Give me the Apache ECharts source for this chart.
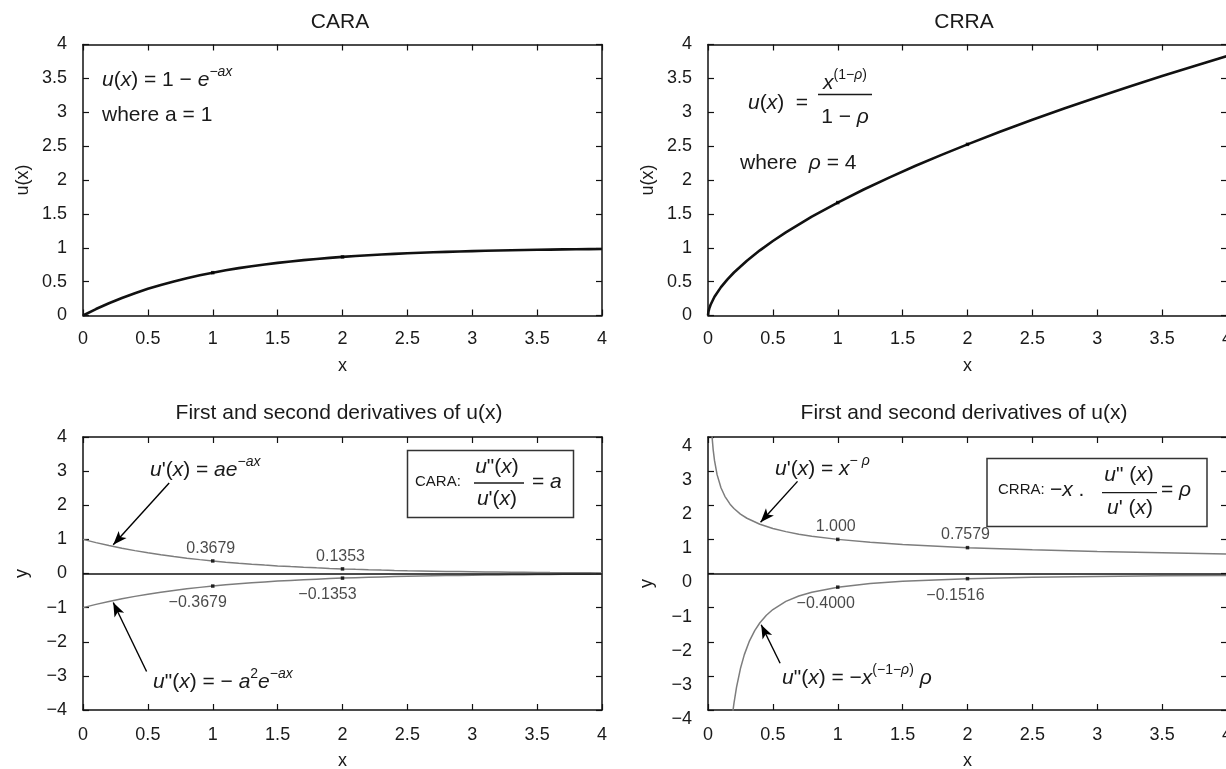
<!DOCTYPE html>
<html><head><meta charset="utf-8">
<script src="https://cdn.jsdelivr.net/npm/echarts@6/dist/echarts.min.js"></script>
<style>html,body{margin:0;padding:0;background:#fff}#c{width:1226px;height:769px}</style>
</head><body><div id="c"></div>
<script>
// ---------------- data ----------------
const panelTitles = ['CARA', 'CRRA', 'First and second derivatives of u(x)', 'First and second derivatives of u(x)'];
const yNames = ['u(x)', 'u(x)', 'y', 'y'];

// CARA: u(x), u'(x), u''(x)
const caraX  = [0,0.1,0.2,0.3,0.4,0.5,0.6,0.7,0.8,0.9,1,1.1,1.2,1.3,1.4,1.5,1.6,1.7,1.8,1.9,2,2.1,2.2,2.3,2.4,2.5,2.6,2.7,2.8,2.9,3,3.1,3.2,3.3,3.4,3.5,3.6,3.7,3.8,3.9,4];
const caraU  = [0,0.0952,0.1813,0.2592,0.3297,0.3935,0.4512,0.5034,0.5507,0.5934,0.6321,0.6671,0.6988,0.7275,0.7534,0.7769,0.7981,0.8173,0.8347,0.8504,0.8647,0.8775,0.8892,0.8997,0.9093,0.9179,0.9257,0.9328,0.9392,0.9450,0.9502,0.9550,0.9592,0.9631,0.9666,0.9698,0.9727,0.9753,0.9776,0.9798,0.9817];
const caraU1 = [1,0.9048,0.8187,0.7408,0.6703,0.6065,0.5488,0.4966,0.4493,0.4066,0.3679,0.3329,0.3012,0.2725,0.2466,0.2231,0.2019,0.1827,0.1653,0.1496,0.1353,0.1225,0.1108,0.1003,0.0907,0.0821,0.0743,0.0672,0.0608,0.0550,0.0498,0.0450,0.0408,0.0369,0.0334,0.0302,0.0273,0.0247,0.0224,0.0202,0.0183];
const caraU2 = [-1,-0.9048,-0.8187,-0.7408,-0.6703,-0.6065,-0.5488,-0.4966,-0.4493,-0.4066,-0.3679,-0.3329,-0.3012,-0.2725,-0.2466,-0.2231,-0.2019,-0.1827,-0.1653,-0.1496,-0.1353,-0.1225,-0.1108,-0.1003,-0.0907,-0.0821,-0.0743,-0.0672,-0.0608,-0.0550,-0.0498,-0.0450,-0.0408,-0.0369,-0.0334,-0.0302,-0.0273,-0.0247,-0.0224,-0.0202,-0.0183];
const caraMarkX  = [1, 2];
const caraMarkU  = [0.6321, 0.8647];
const caraMarkU1 = [0.3679, 0.1353];
const caraMarkU2 = [-0.3679, -0.1353];
const caraLabelsU1 = ['0.3679', '0.1353'];
const caraLabelsU2 = ['\u22120.3679', '\u22120.1353'];

// CRRA: u(x), u'(x), u''(x)
const crraX  = [0,0.003,0.01,0.02,0.05,0.1,0.15,0.2,0.3,0.4,0.5,0.6,0.8,1,1.2,1.4,1.6,1.8,2,2.25,2.5,2.75,3,3.25,3.5,3.75,4];
const crraU  = [0,0.0510,0.1052,0.1593,0.2762,0.4187,0.5340,0.6345,0.8093,0.9618,1.0997,1.2267,1.4579,1.6667,1.8593,2.0395,2.2097,2.3715,2.5262,2.7110,2.8882,3.0582,3.2220,3.3807,3.5343,3.6837,3.8290];
const crraU1X = [0.03,0.04,0.05,0.07,0.1,0.13,0.17,0.2,0.25,0.3,0.4,0.5,0.6,0.7,0.8,1,1.25,1.5,2,2.5,3,3.5,4];
const crraU1  = [4.066,3.624,3.314,2.897,2.512,2.262,2.032,1.904,1.741,1.619,1.443,1.320,1.227,1.153,1.093,1.000,0.9146,0.8503,0.7579,0.6931,0.6444,0.6059,0.5743];
const crraU2X = [0.19,0.2,0.22,0.25,0.28,0.32,0.36,0.4,0.45,0.5,0.6,0.7,0.8,1,1.25,1.5,2,2.5,3,3.5,4];
const crraU2  = [-4.091,-3.807,-3.332,-2.786,-2.377,-1.972,-1.672,-1.443,-1.223,-1.056,-0.8178,-0.6591,-0.5467,-0.4,-0.2927,-0.2267,-0.1516,-0.1109,-0.0859,-0.0692,-0.0574];
const crraMarkX  = [1, 2];
const crraMarkU  = [1.6667, 2.5262];
const crraMarkU1 = [1.000, 0.7579];
const crraMarkU2 = [-0.4000, -0.1516];
const crraLabelsU1 = ['1.000', '0.7579'];
const crraLabelsU2 = ['\u22120.4000', '\u22120.1516'];

// ---------------- styling / layout ----------------
const FONT = '"Liberation Sans", Arial, Helvetica, sans-serif';
const INK = '#1a1a1a';
const pts = (xs, ys) => xs.map((x, i) => [x, ys[i]]);
const minus = v => (v < 0 ? '\u2212' + String(-v) : String(v));

const grids = [
  {left: 83,  top: 44.5, width: 519, height: 271},
  {left: 708, top: 44.5, width: 519, height: 271},
  {left: 83,  top: 437,  width: 519, height: 273},
  {left: 708, top: 437,  width: 519, height: 273}
].map(g => Object.assign(g, {containLabel: false, outerBoundsMode: 'none'}));
const yRange = [[0, 4, 0.5], [0, 4, 0.5], [-4, 4, 1], [-4, 4, 1]];

const lineAxis = {show: true, onZero: false, lineStyle: {color: '#111', width: 1.5}};
const tickIn = {show: true, inside: true, length: 6, lineStyle: {color: '#111', width: 1.2}};
const xAxes = [], yAxes = [];
grids.forEach((g, gi) => {
  const xc = {type: 'value', gridIndex: gi, min: 0, max: 4, interval: 0.5, axisLine: lineAxis, axisTick: tickIn, splitLine: {show: false}};
  xAxes.push(Object.assign({}, xc, {
    position: 'bottom',
    axisLabel: {show: true, margin: gi < 2 ? 15 : 16, fontSize: 18, color: INK, fontFamily: FONT, formatter: minus, hideOverlap: false},
    name: 'x', nameLocation: 'middle', nameGap: 42,
    nameTextStyle: {fontSize: 18, color: INK, fontFamily: FONT}
  }));
  xAxes.push(Object.assign({}, xc, {position: 'top', axisLabel: {show: false}}));
  const [mn, mx, iv] = yRange[gi];
  const yc = {type: 'value', gridIndex: gi, min: mn, max: mx, interval: iv, axisLine: lineAxis, axisTick: tickIn, splitLine: {show: false}};
  yAxes.push(Object.assign({}, yc, {
    position: 'left',
    axisLabel: Object.assign({show: true, margin: 16, fontSize: 18, color: INK, fontFamily: FONT, formatter: minus},
      gi === 3 ? {verticalAlign: 'top'} : {}),
    name: yNames[gi], nameLocation: 'middle', nameGap: gi < 2 ? 51 : 52, nameRotate: 90,
    nameTextStyle: Object.assign({fontSize: 18, color: INK, fontFamily: FONT}, gi === 3 ? {padding: [0, 20, 0, 0]} : {})
  }));
  yAxes.push(Object.assign({}, yc, {position: 'right', axisLabel: {show: false}}));
});

const titleCenters = [[340, 11.5], [964, 11.5], [339, 402.5], [964, 402.5]];
const titles = panelTitles.map((t, i) => ({
  text: t, left: titleCenters[i][0], top: titleCenters[i][1], textAlign: 'center', padding: 0,
  textStyle: {fontSize: 21, fontWeight: 'normal', color: INK, fontFamily: FONT}
}));

const curve = (gi, data, color, width) => ({
  type: 'line', xAxisIndex: 2 * gi, yAxisIndex: 2 * gi, data, showSymbol: false, symbol: 'none',
  lineStyle: {color, width}, silent: true, clip: true, z: 3
});
const dots = (gi, data, labels, pos, offset) => ({
  type: 'scatter', xAxisIndex: 2 * gi, yAxisIndex: 2 * gi, data, symbol: 'rect', symbolSize: 3.5,
  itemStyle: {color: '#000'}, silent: true, z: 5,
  label: labels ? {show: true, position: pos, distance: pos === 'top' ? 3 : 7, offset,
    formatter: p => labels[p.dataIndex], fontSize: 16, color: INK, fontFamily: FONT} : {show: false}
});
const zeroLine = gi => ({
  type: 'line', xAxisIndex: 2 * gi, yAxisIndex: 2 * gi, data: [], silent: true,
  markLine: {silent: true, symbol: 'none', label: {show: false}, animation: false,
    lineStyle: {color: '#111', width: 1.5, type: 'solid'}, data: [{yAxis: 0}]}
});
const arrow = (gi, from, to) => ({
  type: 'line', xAxisIndex: 2 * gi, yAxisIndex: 2 * gi, data: [], silent: true,
  markLine: {silent: true, symbol: ['none', 'arrow'], symbolSize: [8, 14], label: {show: false}, animation: false,
    lineStyle: {color: '#000', width: 1.4, type: 'solid'}, data: [[{coord: from}, {coord: to}]]}
});

const series = [
  curve(0, pts(caraX, caraU), '#111', 2.6),
  dots(0, pts(caraMarkX, caraMarkU), null),
  curve(1, pts(crraX, crraU), '#111', 2.6),
  dots(1, pts(crraMarkX, crraMarkU), null),
  zeroLine(2),
  curve(2, pts(caraX, caraU1), '#7d7d7d', 1.5),
  curve(2, pts(caraX, caraU2), '#7d7d7d', 1.5),
  dots(2, pts(caraMarkX, caraMarkU1), caraLabelsU1, 'top', [-2, 0]),
  dots(2, pts(caraMarkX, caraMarkU2), caraLabelsU2, 'bottom', [-15, 0]),
  arrow(2, [0.664, 2.65], [0.233, 0.84]),
  arrow(2, [0.49, -2.87], [0.233, -0.85]),
  zeroLine(3),
  curve(3, pts(crraU1X, crraU1), '#7d7d7d', 1.5),
  curve(3, pts(crraU2X, crraU2), '#7d7d7d', 1.5),
  dots(3, pts(crraMarkX, crraMarkU1), crraLabelsU1, 'top', [-2, 0]),
  dots(3, pts(crraMarkX, crraMarkU2), crraLabelsU2, 'bottom', [-12, 0]),
  arrow(3, [0.69, 2.70], [0.405, 1.50]),
  arrow(3, [0.556, -2.63], [0.41, -1.50])
];

// ---------------- formula annotations ----------------
const rich = {
  n:  {fontFamily: FONT, fontSize: 21, fill: INK, lineHeight: 30, verticalAlign: 'middle'},
  i:  {fontFamily: FONT, fontSize: 21, fontStyle: 'italic', fill: INK, lineHeight: 30, verticalAlign: 'middle'},
  s:  {fontFamily: FONT, fontSize: 14, fill: INK, lineHeight: 14, verticalAlign: 'top'},
  si: {fontFamily: FONT, fontSize: 14, fontStyle: 'italic', fill: INK, lineHeight: 14, verticalAlign: 'top'},
  c:  {fontFamily: FONT, fontSize: 15, fill: INK, lineHeight: 30, verticalAlign: 'middle'}
};
function T(x, y, text, align) {
  const a = align || 'left';
  return {type: 'text', x, y, silent: true, z: 10,
    style: {text, rich, align: a, textAlign: a, verticalAlign: 'middle', textVerticalAlign: 'middle',
      fill: INK, fontFamily: FONT, fontSize: 21}};
}
function L(x1, x2, y) {
  return {type: 'line', silent: true, z: 10, shape: {x1, y1: y, x2, y2: y}, style: {stroke: INK, lineWidth: 1.3}};
}
function R(x, y, w, h) {
  return {type: 'rect', silent: true, z: 9, shape: {x, y, width: w, height: h}, style: {fill: 'none', stroke: '#333', lineWidth: 1.5}};
}
const graphics = [
  // CARA u(x)
  T(102, 80, '{i|u}{n|(}{i|x}{n|) = 1 \u2212 }{i|e}{s|\u2212}{si|ax}'),
  T(102, 115, '{n|where a = 1}'),
  // CRRA u(x)
  T(748, 103, '{i|u}{n|(}{i|x}{n|)  =}'),
  T(845, 83, '{i|x}{s|(1\u2212}{si|\u03c1}{s|)}', 'center'),
  L(818, 872, 94.5),
  T(845, 117, '{n|1 \u2212 }{i|\u03c1}', 'center'),
  T(740, 163, '{n|where  }{i|\u03c1}{n| = 4}'),
  // CARA derivatives
  T(150, 470, "{i|u}{n|'(}{i|x}{n|) = }{i|ae}{s|\u2212}{si|ax}"),
  T(153, 682, '{i|u}{n|"(}{i|x}{n|) = \u2212 }{i|a}{s|2}{i|e}{s|\u2212}{si|ax}'),
  R(407.5, 450.5, 166, 67),
  T(415, 482, '{c|CARA:}'),
  T(497, 467, '{i|u}{n|"(}{i|x}{n|)}', 'center'),
  L(474, 524, 483),
  T(497, 499, "{i|u}{n|'(}{i|x}{n|)}", 'center'),
  T(532, 482, '{n|= }{i|a}'),
  // CRRA derivatives
  T(775, 469, "{i|u}{n|'(}{i|x}{n|) = }{i|x}{s|\u2212 }{si|\u03c1}"),
  T(782, 678, '{i|u}{n|"(}{i|x}{n|) = \u2212}{i|x}{s|(\u22121\u2212}{si|\u03c1}{s|)}{i| \u03c1}'),
  R(987, 458.5, 220, 68),
  T(998, 490, '{c|CRRA:}'),
  T(1050, 490, '{n|\u2212}{i|x}{n| .}'),
  T(1129, 475, '{i|u}{n|" (}{i|x}{n|)}', 'center'),
  L(1102, 1157, 492.7),
  T(1130, 508, "{i|u}{n|' (}{i|x}{n|)}", 'center'),
  T(1161, 490, '{n|= }{i|\u03c1}')
];

const chart = echarts.init(document.getElementById('c'), null, {renderer: 'canvas'});
chart.setOption({
  backgroundColor: '#fff',
  animation: false,
  title: titles,
  grid: grids,
  xAxis: xAxes,
  yAxis: yAxes,
  series,
  graphic: graphics
});
</script>
</body></html>
